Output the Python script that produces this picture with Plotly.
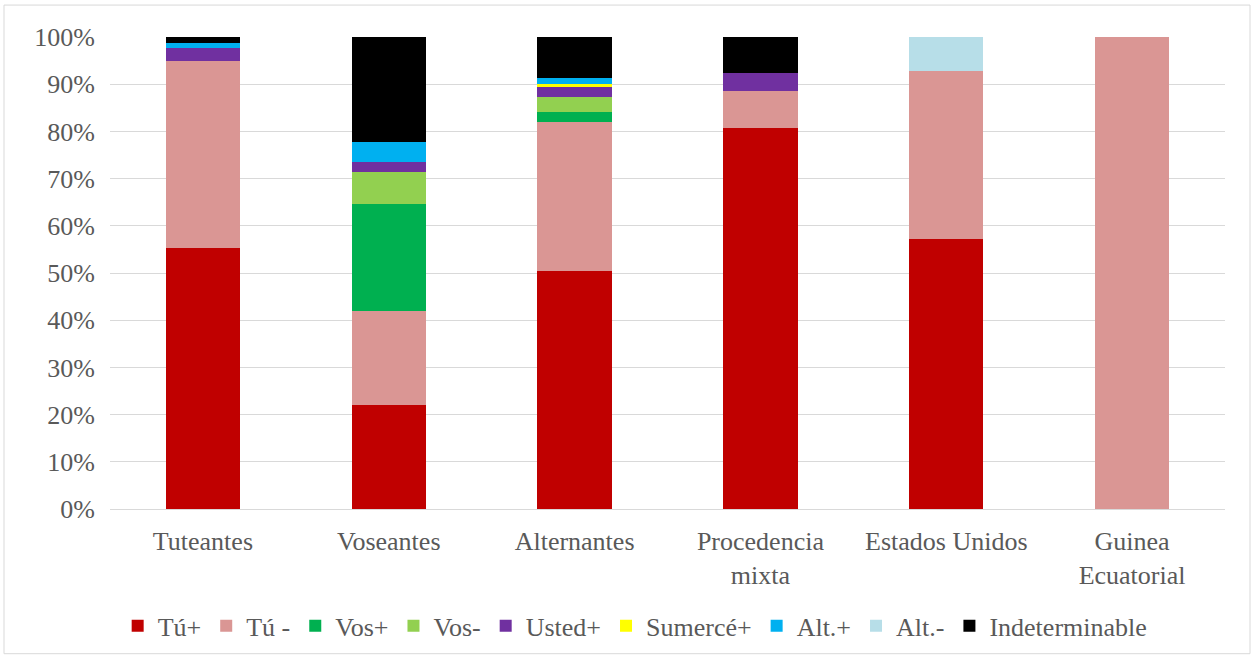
import plotly.graph_objects as go

categories = ["Tuteantes", "Voseantes", "Alternantes", "Procedencia<br>mixta",
              "Estados Unidos", "Guinea<br>Ecuatorial"]

series_names = ["Tú+", "Tú -", "Vos+", "Vos-", "Usted+", "Sumercé+", "Alt.+", "Alt.-", "Indeterminable"]

tu_pos = [55.4, 22.0, 50.5, 80.8, 57.1, 0]
tu_neg = [39.5, 19.9, 31.5, 7.7, 35.7, 100]
vos_pos = [0, 22.7, 2.2, 0, 0, 0]
vos_neg = [0, 6.7, 3.0, 0, 0, 0]
usted_pos = [2.8, 2.3, 2.3, 3.8, 0, 0]
sumerce_pos = [0, 0, 0.5, 0, 0, 0]
alt_pos = [1.1, 4.1, 1.3, 0, 0, 0]
alt_neg = [0, 0, 0, 0, 7.1, 0]
indeterminable = [1.2, 22.3, 8.7, 7.7, 0, 0]

series_values = [tu_pos, tu_neg, vos_pos, vos_neg, usted_pos, sumerce_pos, alt_pos, alt_neg, indeterminable]
colors = ["#C00000", "#DA9694", "#00B050", "#92D050", "#7030A0", "#FFFF00", "#00B0F0", "#B7DEE8", "#000000"]

y_ticks = [0, 10, 20, 30, 40, 50, 60, 70, 80, 90, 100]
y_tick_labels = [f"{t}%" for t in y_ticks]

FONT = "Liberation Serif, Times New Roman, serif"
TXT = "#595959"
FS = 26

fig = go.Figure()
for name, vals, col in zip(series_names, series_values, colors):
    fig.add_trace(go.Bar(
        x=categories, y=vals, name=name,
        marker=dict(color=col, line=dict(width=0)),
    ))

W, H = 1254, 660
ml, mr, mt, mb = 110, 29, 37, 150
pw, ph = W - ml - mr, H - mt - mb

fig.update_layout(
    width=W, height=H,
    barmode="stack", bargap=0.6,
    margin=dict(l=ml, r=mr, t=mt, b=mb),
    paper_bgcolor="white", plot_bgcolor="white",
    font=dict(family=FONT, size=FS, color=TXT),
    xaxis=dict(showline=False, ticks="", ticklabelstandoff=14,
               tickfont=dict(size=FS, color=TXT)),
    yaxis=dict(range=[0, 100], tickvals=y_ticks, ticktext=y_tick_labels,
               showgrid=True, gridcolor="#D9D9D9", gridwidth=1,
               zeroline=True, zerolinecolor="#D9D9D9", zerolinewidth=1,
               showline=False, ticks="", ticklabelstandoff=14,
               tickfont=dict(size=FS, color=TXT)),
    legend=dict(orientation="h", x=0.471, xanchor="center", y=-0.195, yanchor="top",
                font=dict(size=FS, color=TXT), traceorder="normal",
                itemwidth=30, tracegroupgap=0),
    shapes=[dict(type="rect", xref="paper", yref="paper",
                 x0=(4 - ml) / pw, x1=(1250 - ml) / pw,
                 y0=-(H - 5 - mt - ph) / ph, y1=1 + (mt - 5) / ph,
                 line=dict(color="#D9D9D9", width=1), fillcolor="rgba(0,0,0,0)",
                 layer="below")],
)

fig.write_html("out.html")
